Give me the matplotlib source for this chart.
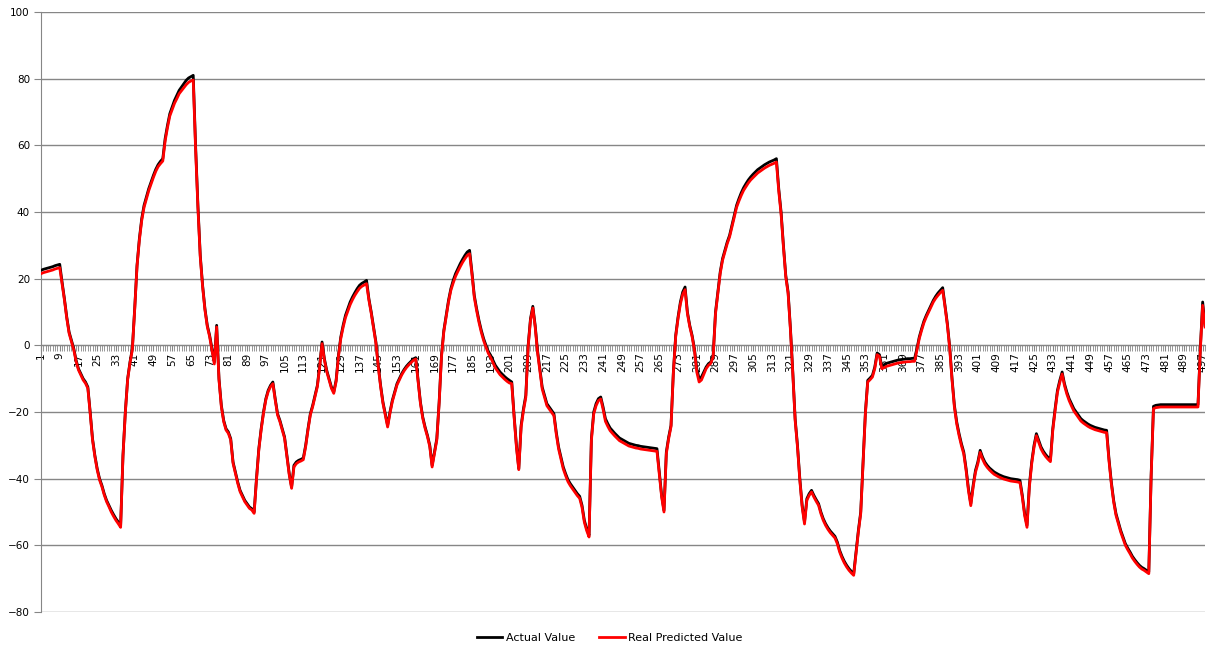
import matplotlib
matplotlib.use("Agg")
import matplotlib.pyplot as plt
import numpy as np

# values, one per category (1..498)
actual = [
    22.5, 22.8, 23.0, 23.2, 23.4, 23.6, 23.9, 24.1, 24.3, 19.0,
    14.0, 8.5, 4.0, 1.5, -1.0, -4.5, -7.0, -8.5, -10.0, -11.0,
    -12.5, -20.0, -28.0, -33.0, -37.0, -40.0, -42.0, -44.5, -46.5, -48.0,
    -49.5, -50.8, -52.0, -53.0, -54.0, -33.0, -20.0, -10.0, -5.0, -1.0,
    11.0, 24.0, 32.0, 38.0, 42.0, 44.5, 47.0, 49.0, 51.0, 52.8,
    54.2, 55.2, 56.0, 62.0, 66.0, 69.5, 71.5, 73.5, 75.0, 76.5,
    77.5, 78.5, 79.5, 80.2, 80.6, 81.0, 60.0, 42.0, 27.0, 18.0,
    11.0, 6.0, 3.0, -1.0, -5.0, 6.0, -10.0, -18.0, -22.5, -25.0,
    -26.0, -28.0, -35.0, -38.0, -41.0, -43.5, -45.0, -46.5, -47.5, -48.5,
    -49.0, -50.0, -40.0, -31.0, -25.0, -20.0, -16.0, -13.5, -12.0, -11.0,
    -16.0, -20.5, -22.5, -25.0, -27.5, -33.0, -38.5, -42.5, -36.0, -35.0,
    -34.5, -34.2, -33.8, -30.0, -25.0, -20.5, -18.0, -15.0, -12.0, -6.0,
    1.0, -4.0, -7.5, -10.0, -12.5, -14.0, -10.5, -3.0, 2.5, 6.0,
    9.0, 11.0, 13.0, 14.5, 15.8, 17.0, 18.0, 18.6, 19.0, 19.5,
    14.0, 10.0, 5.5, 1.0, -6.0, -12.0, -17.0, -20.5, -24.0, -20.0,
    -16.5, -14.0, -11.5, -10.0, -8.5, -7.3, -6.3, -5.5, -4.8, -4.1,
    -3.7, -10.5, -17.0, -21.5, -24.5, -27.0, -30.0, -36.0, -32.0, -28.0,
    -17.0, -3.0, 4.5, 9.0, 13.5, 17.0, 19.5, 21.5, 23.0, 24.5,
    25.8, 27.0, 28.0, 28.5, 22.0, 15.0, 11.0, 7.5, 4.5, 2.0,
    0.0, -1.8, -3.0, -4.5, -6.0, -7.0, -8.0, -8.7, -9.4, -10.0,
    -10.5, -11.0, -21.0, -30.0, -37.0, -24.0, -19.0, -15.0, 0.0, 8.0,
    11.7, 6.0, -1.5, -7.0, -12.5, -15.0, -17.5, -18.5, -19.5, -20.5,
    -26.0, -30.5, -33.5, -36.5, -38.5, -40.3, -41.5, -42.5, -43.5, -44.5,
    -45.3, -48.0, -52.5, -55.0, -57.0, -28.0, -20.0, -17.5, -16.0, -15.5,
    -18.5, -22.0, -23.5, -24.8, -25.6, -26.4, -27.1, -27.8, -28.2, -28.6,
    -29.0, -29.4, -29.6, -29.8, -30.0, -30.1, -30.3, -30.4, -30.5, -30.6,
    -30.7, -30.8, -30.9, -31.0, -38.0, -45.0, -49.5, -32.0, -27.5, -24.0,
    -8.0, 3.0, 8.5, 13.0, 16.0, 17.5, 10.0, 6.0, 3.0, -1.0,
    -7.0, -10.0, -9.5, -8.0, -6.5, -5.5, -5.0, -3.0, 10.0, 16.0,
    22.0, 26.0, 28.5, 31.0, 33.0, 36.0, 39.0, 42.0, 44.0, 45.8,
    47.3, 48.5, 49.6, 50.5, 51.3, 52.0, 52.7, 53.2, 53.7, 54.2,
    54.6, 55.0, 55.3, 55.6, 56.0, 47.0, 40.0, 30.0, 21.0, 16.0,
    5.0, -8.0, -22.0, -30.0, -40.0, -48.0, -53.0, -46.0, -44.5, -43.5,
    -45.0, -46.3, -47.5, -50.0, -52.0, -53.5, -54.7, -55.7, -56.5, -57.3,
    -59.0, -61.5, -63.3, -64.8, -66.0, -67.0, -67.8, -68.5, -62.0, -55.5,
    -50.0, -35.0, -20.0, -10.5, -9.8, -9.0, -6.5, -2.3, -2.8, -6.3,
    -5.8, -5.4, -5.2, -5.0, -4.8, -4.6, -4.4, -4.3, -4.2, -4.1,
    -4.0, -4.0, -3.9, -3.9, -1.0, 2.5, 5.0, 7.3, 9.0, 10.5,
    12.0, 13.5, 14.7, 15.7, 16.5, 17.3, 12.0, 6.5, -0.5, -10.0,
    -18.0, -23.0, -26.5, -29.5, -32.0, -37.0, -43.0, -47.5, -42.0, -37.5,
    -35.0, -31.5, -33.5, -35.0, -36.0, -36.8, -37.4, -38.0, -38.4, -38.8,
    -39.1, -39.4, -39.6, -39.8, -40.0, -40.1, -40.2, -40.3, -40.5, -45.0,
    -50.5, -54.0, -42.0, -35.0, -30.0, -26.5, -28.5, -30.5, -31.8, -32.8,
    -33.6, -34.3, -25.0, -19.0, -13.5, -10.5, -8.0, -11.5, -14.0, -16.0,
    -17.5, -19.0, -20.0, -21.0, -22.0, -22.6, -23.1, -23.6, -24.0, -24.3,
    -24.6, -24.8, -25.0, -25.2, -25.4, -25.5, -34.0, -41.0, -46.5, -50.5,
    -53.0, -55.5, -57.5, -59.5, -60.8, -62.0, -63.3, -64.3, -65.2, -66.0,
    -66.6, -67.0, -67.5, -68.0, -39.0, -18.3, -18.0, -17.9, -17.8, -17.8,
    -17.8, -17.8, -17.8, -17.8, -17.8, -17.8, -17.8, -17.8, -17.8, -17.8,
    -17.8, -17.8, -17.8, -17.8, -17.8, -1.0, 13.0, 6.0,
]

predicted = [
    21.5, 21.8, 22.0, 22.2, 22.4, 22.6, 22.9, 23.1, 23.3, 18.5,
    13.6, 8.1, 3.6, 1.1, -1.4, -4.9, -7.4, -8.9, -10.4, -11.4,
    -12.9, -20.4, -28.4, -33.4, -37.4, -40.4, -42.4, -44.9, -46.9, -48.4,
    -50.0, -51.3, -52.5, -53.5, -54.6, -33.3, -20.3, -10.3, -5.3, -1.3,
    10.7, 23.7, 31.5, 37.4, 41.4, 43.9, 46.4, 48.4, 50.4, 52.2,
    53.6, 54.5, 55.3, 61.3, 65.3, 68.8, 70.7, 72.6, 74.0, 75.5,
    76.4, 77.3, 78.2, 78.9, 79.3, 79.6, 59.0, 41.3, 26.5, 17.6,
    10.6, 5.6, 2.6, -1.6, -5.6, 5.5, -10.4, -18.4, -22.9, -25.4,
    -26.4, -28.4, -35.4, -38.4, -41.4, -43.9, -45.4, -46.9, -47.9, -48.9,
    -49.4, -50.4, -40.4, -31.4, -25.4, -20.4, -16.4, -13.9, -12.4, -11.5,
    -16.4, -20.9, -22.9, -25.4, -27.9, -33.4, -38.9, -42.9, -36.5, -35.5,
    -35.0, -34.7, -34.3, -30.4, -25.4, -20.9, -18.4, -15.4, -12.4, -6.4,
    0.5, -4.4, -7.9, -10.4, -12.9, -14.4, -10.9, -3.4, 2.0, 5.4,
    8.3, 10.3, 12.2, 13.7, 15.0, 16.1, 17.1, 17.7, 18.1, 18.5,
    13.6, 9.6, 5.1, 0.6, -6.4, -12.4, -17.4, -20.9, -24.5, -20.4,
    -16.9, -14.4, -11.9, -10.4, -8.9, -7.7, -6.7, -5.9, -5.2, -4.5,
    -4.1, -10.9, -17.4, -21.9, -24.9, -27.4, -30.4, -36.5, -32.4, -28.4,
    -17.4, -3.4, 4.1, 8.6, 13.0, 16.5, 18.7, 20.7, 22.2, 23.6,
    24.9, 26.0, 27.0, 27.5, 21.4, 14.4, 10.4, 6.9, 3.9, 1.4,
    -0.6, -2.4, -3.7, -5.2, -6.8, -7.8, -8.8, -9.5, -10.2, -10.8,
    -11.3, -11.5, -21.5, -30.6, -37.3, -24.6, -19.6, -15.6, -0.5, 7.5,
    11.2, 5.5, -2.1, -7.6, -13.1, -15.6, -18.1, -19.1, -20.1, -21.1,
    -26.6, -31.1, -34.1, -37.1, -39.1, -40.9, -42.1, -43.1, -44.1, -45.1,
    -45.9, -48.6, -53.1, -55.6, -57.5, -28.6, -20.6, -18.1, -16.6, -16.1,
    -19.2, -22.8, -24.3, -25.6, -26.4, -27.2, -27.9, -28.6, -29.0, -29.4,
    -29.8, -30.2, -30.4, -30.6, -30.8, -30.9, -31.1, -31.2, -31.3, -31.4,
    -31.5, -31.6, -31.7, -31.8, -38.6, -45.5, -50.0, -32.5, -28.0, -24.4,
    -8.4, 2.6, 8.0, 12.4, 15.3, 16.7, 9.5, 5.6, 2.6, -1.5,
    -8.0, -11.0, -10.4, -8.7, -7.0, -6.0, -5.4, -3.4, 9.5, 15.5,
    21.5, 25.5, 28.0, 30.5, 32.5, 35.4, 38.4, 41.4, 43.3, 45.0,
    46.5, 47.6, 48.7, 49.6, 50.3, 51.0, 51.7, 52.2, 52.7, 53.2,
    53.6, 54.0, 54.3, 54.6, 55.0, 46.3, 39.4, 29.5, 20.5, 15.5,
    4.5, -8.5, -22.5, -30.5, -40.5, -48.5, -53.6, -46.5, -45.0, -44.0,
    -45.5, -46.8, -48.0, -50.5, -52.5, -54.0, -55.2, -56.2, -57.0, -57.8,
    -59.5, -62.0, -63.8, -65.3, -66.5, -67.5, -68.3, -69.0, -62.5, -56.0,
    -50.5, -35.5, -20.5, -11.0, -10.3, -9.5, -7.0, -2.8, -3.3, -7.0,
    -6.7, -6.3, -6.1, -5.9, -5.7, -5.5, -5.3, -5.2, -5.1, -5.0,
    -4.9, -4.9, -4.8, -4.8, -1.5, 2.0, 4.5, 6.8, 8.5, 10.0,
    11.5, 13.0, 14.1, 15.0, 15.8, 16.5, 11.5, 6.0, -1.0, -10.5,
    -18.6, -23.6, -27.1, -30.1, -32.6, -37.6, -43.6, -48.1, -42.6, -38.1,
    -35.6, -32.1, -34.1, -35.6, -36.6, -37.4, -38.1, -38.7, -39.1, -39.5,
    -39.8, -40.1, -40.3, -40.5, -40.7, -40.8, -40.9, -41.0, -41.2, -45.6,
    -51.1, -54.6, -42.6, -35.6, -30.6, -27.1, -29.1, -31.1, -32.4, -33.4,
    -34.2, -34.9, -25.6, -19.6, -14.1, -11.1, -8.6, -12.1, -14.6, -16.6,
    -18.2, -19.7, -20.7, -21.7, -22.7, -23.3, -23.8, -24.3, -24.7, -25.0,
    -25.3, -25.5, -25.7, -25.9, -26.1, -26.2, -34.6, -41.5, -47.0, -51.0,
    -53.5, -56.0, -58.0, -60.0, -61.3, -62.5, -63.8, -64.8, -65.7, -66.5,
    -67.1, -67.5, -68.0, -68.5, -39.5, -19.0, -18.7, -18.6, -18.5, -18.5,
    -18.5, -18.5, -18.5, -18.5, -18.5, -18.5, -18.5, -18.5, -18.5, -18.5,
    -18.5, -18.5, -18.5, -18.5, -18.5, -1.5, 12.0, 5.5,
]

categories = list(range(1, len(actual) + 1))
shown_labels = categories[::8]
y_ticks = list(range(-80, 101, 20))

grey = "#868686"

fig = plt.figure(figsize=(12.16, 6.55), dpi=100)
ax = fig.add_axes([41 / 1216, 1 - 612 / 655, (1205 - 41) / 1216, 600 / 655])

ax.plot(categories, actual, color="black", lw=2.0, label="Actual Value", zorder=3)
ax.plot(categories, predicted, color="#ff0000", lw=2.0, label="Real Predicted Value", zorder=4)

ax.set_xlim(1, len(categories))
ax.set_ylim(-80, 100)
ax.set_yticks(y_ticks)
ax.yaxis.grid(True, color=grey, lw=1)

ax.spines["top"].set_visible(False)
ax.spines["right"].set_visible(False)
ax.spines["left"].set_color(grey)
ax.spines["bottom"].set_position(("data", 0))
ax.spines["bottom"].set_color(grey)

ax.set_xticks(shown_labels)
ax.set_xticklabels([str(c) for c in shown_labels], rotation=90)
ax.set_xticks(categories, minor=True)
ax.tick_params(axis="x", which="both", length=4, color=grey, direction="out",
               labelsize=7.5, pad=1)
ax.tick_params(axis="y", length=5, color=grey, labelsize=7.5, pad=3)

fig.legend(loc="center", bbox_to_anchor=(0.5015, 0.026), ncol=2, frameon=False,
           fontsize=8, handlelength=2.3, columnspacing=2.2, handletextpad=0.3)

fig.savefig("out.png", dpi=100)
